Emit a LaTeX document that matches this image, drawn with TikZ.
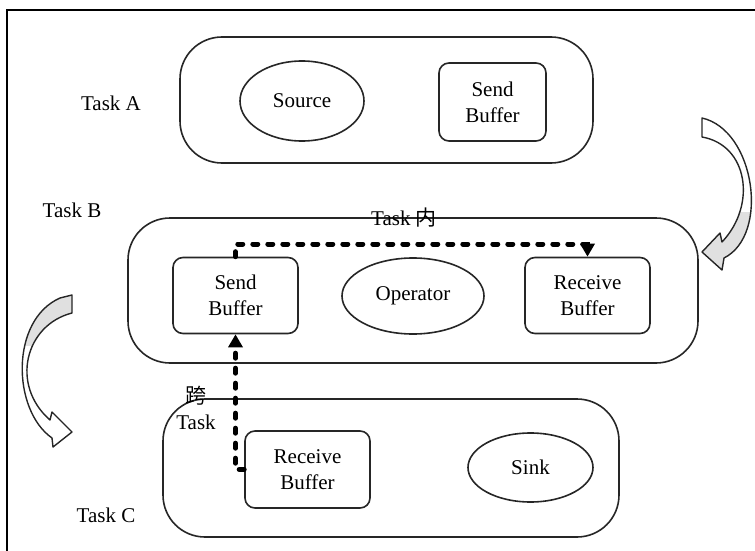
\documentclass[tikz,border=0pt]{standalone}
\usepackage{fontspec}
\setmainfont{Liberation Serif}
\newfontfamily\cjk{Noto Sans CJK SC}
\usetikzlibrary{positioning,shapes.geometric,arrows.meta}
\newcommand*{\leftTurn}{(60,298) -- (72,295) -- (72,313) .. controls (25,325) and (10,385) .. (50,420) -- (52,412) -- (72,432) -- (53,447) -- (52,438) .. controls (12,410) and (10,320) .. (60,298) -- cycle}
\newcommand*{\rightTurn}{(702,118) .. controls (755,130) and (770,235) .. (724,258) -- (722,270) -- (702,252) -- (720,233) -- (722,242) .. controls (757,205) and (748,145) .. (702,137) -- cycle}
\tikzset{
    task/.style={draw=black!85, line width=1.6pt, rounded corners=42pt},
    buffer/.style={draw=black!85, line width=1.6pt, rounded corners=10pt, align=center, minimum width=125pt, minimum height=76pt},
    op/.style={ellipse, draw=black!85, line width=1.6pt, inner sep=0pt},
    flow/.style={line width=5pt, line cap=round, dash pattern=on 5pt off 10pt, -{Triangle[length=13pt,width=14pt]}},
    turn/.style={draw=black!85, line width=1.4pt, line join=round}
}

\begin{document}
\begin{tikzpicture}[x=1pt, y=-1pt, line width=1pt, font=\fontsize{21}{26}\selectfont]
    \useasboundingbox (0,0) rectangle (755,551);
    \clip (0,0) rectangle (755,551);
    \draw[line width=2pt] (7,10) rectangle (770,570);

    % the three tasks
    \node[task, minimum width=413pt, minimum height=126pt] (taskA) at (386.5,100) {};
    \node[task, minimum width=570pt, minimum height=145pt] (taskB) at (413,290.5) {};
    \node[task, minimum width=456pt, minimum height=138pt] (taskC) at (391,468) {};

    \node[op, minimum width=124pt, minimum height=80pt] (source) at (302,101) {Source};
    \node[buffer, minimum width=107pt, minimum height=78pt] (sendA) at (492.5,102) {Send\\Buffer};
    \node[buffer] (sendB) at (235.5,295.5) {Send\\Buffer};
    \node[op, minimum width=142pt, minimum height=76pt] (operator) at (413,296) {Operator};
    \node[buffer] (recvB) at (587.5,295.5) {Receive\\Buffer};
    \node[buffer, minimum height=77pt] (recvC) at (307.5,469.5) {Receive\\Buffer};
    \node[op, minimum width=125pt, minimum height=69pt] (sink) at (530.5,467.5) {Sink};

    \node (labA) at (111,103) {Task A};
    \node (labB) at (72,210) {Task B};
    \node (labC) at (106,515) {Task C};
    \node (labIn) at (404,218) {Task {\cjk 内}};
    \node[align=center] (labCross) at (196,408) {{\cjk 跨}\\Task};

    % data flow
    \coordinate (lane) at (400,244);
    \draw[flow] (sendB.north) -- (sendB.north |- lane) -- (recvB.north |- lane) -- (recvB.north);
    \draw[flow] (recvC.west) -- (recvC.west -| sendB.south) -- (sendB.south);

    % turning arrows between tasks
    \begin{scope}
        \clip (0,280) rectangle (90,345);
        \fill[black!12] \leftTurn;
    \end{scope}
    \draw[turn] \leftTurn;
    \begin{scope}
        \clip (690,212) rectangle (760,280);
        \fill[black!12] \rightTurn;
    \end{scope}
    \draw[turn] \rightTurn;
\end{tikzpicture}
\end{document}
